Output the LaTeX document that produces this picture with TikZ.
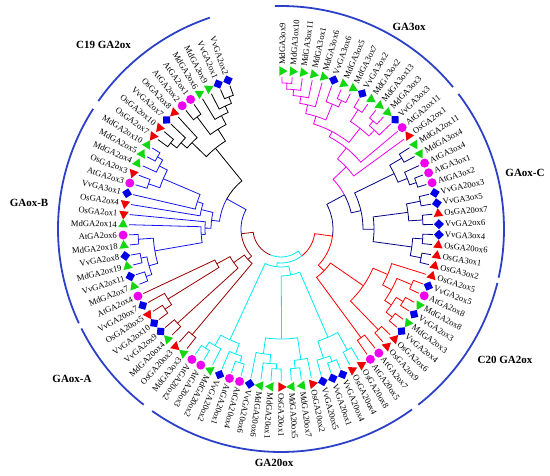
\documentclass[tikz,border=0pt]{standalone}
\usepackage{fontspec}
\setmainfont{Liberation Serif}
\usetikzlibrary{shapes.geometric}
\definecolor{cMag}{RGB}{240,0,240}
\definecolor{cNavy}{RGB}{0,0,128}
\definecolor{cRed}{RGB}{255,0,0}
\definecolor{cCyan}{RGB}{0,235,240}
\definecolor{cDRed}{RGB}{150,0,0}
\definecolor{cBlue}{RGB}{20,20,240}
\definecolor{cBlk}{RGB}{0,0,0}
\definecolor{mGreen}{RGB}{20,215,20}
\definecolor{mBlue}{RGB}{0,0,230}
\definecolor{mRed}{RGB}{240,0,0}
\definecolor{mMag}{RGB}{240,0,240}
\definecolor{arcBlue}{RGB}{45,65,200}
\tikzset{
  br/.style={line width=0.8pt},
  mkG/.style={regular polygon, regular polygon sides=3, fill=mGreen, inner sep=0pt, minimum size=11pt, rotate=#1-180},
  mkR/.style={regular polygon, regular polygon sides=3, fill=mRed, inner sep=0pt, minimum size=11pt, rotate=#1},
  mkB/.style={regular polygon, regular polygon sides=4, fill=mBlue, inner sep=0pt, minimum size=10pt, rotate=#1+45},
  mkM/.style={circle, fill=mMag, inner sep=0pt, minimum size=9pt},
  lab/.style={font=\fontsize{8.6}{9}\selectfont, inner sep=0pt},
  grp/.style={font=\fontsize{11}{12}\selectfont\bfseries, inner sep=0pt},
  outarc/.style={draw=arcBlue, line width=1.8pt}
}
% clade: colour1 colour2 R i1 r1 i2 r2
\newcommand\CL[7]{%
  \draw[br,#1] ({89.6-3.82*(#4)}:#5pt) -- ({89.6-3.82*(#4)}:#3pt)
    arc[start angle={89.6-3.82*(#4)}, end angle={89.6-3.82*((#4+#6)/2)}, radius=#3pt];
  \draw[br,#2] ({89.6-3.82*(#6)}:#7pt) -- ({89.6-3.82*(#6)}:#3pt)
    arc[start angle={89.6-3.82*(#6)}, end angle={89.6-3.82*((#4+#6)/2)}, radius=#3pt];}
% leaf: index, text, type
\newcommand\LF[3]{%
  \pgfmathsetmacro\ph{89.6-3.82*#1}%
  \node[mk#3=\ph] (m#1) at (\ph:158pt) {};
  \ifnum#1<57
    \node[lab, anchor=west, rotate=\ph] (t#1) at (\ph:164pt) {#2};
  \else
    \node[lab, anchor=east, rotate=\ph+180] (t#1) at (\ph:164pt) {#2};
  \fi}
\newcommand\OA[2]{\draw[outarc] ({90-(#1)}:223pt) arc[start angle={90-(#1)}, end angle={90-(#2)}, radius=223pt];}
\begin{document}
\begin{tikzpicture}
\useasboundingbox (0,0) rectangle (550pt,475pt);
\begin{scope}[shift={(281pt,246pt)}]
% ---- GA3ox (magenta)
\CL{cMag}{cMag}{146}{0}{152}{1}{152}
\CL{cMag}{cMag}{140}{0.5}{146}{2}{152}
\CL{cMag}{cMag}{134}{1.25}{140}{3}{152}
\CL{cMag}{cMag}{127}{2.125}{134}{4}{152}
\CL{cMag}{cMag}{142}{6}{152}{7}{152}
\CL{cMag}{cMag}{135}{5}{152}{6.5}{142}
\CL{cMag}{cMag}{118}{3.0625}{127}{5.75}{135}
\CL{cMag}{cMag}{142}{8}{152}{9}{152}
\CL{cMag}{cMag}{142}{10}{152}{11}{152}
\CL{cMag}{cMag}{136}{10.5}{142}{12}{152}
\CL{cMag}{cMag}{128}{8.5}{142}{11.25}{136}
\CL{cMag}{cMag}{110}{4.40625}{118}{9.875}{128}
\CL{cMag}{cMag}{104}{7.140625}{110}{13}{152}
\CL{cMag}{cMag}{90}{10.0703}{104}{14}{152}
% ---- GAox-C (navy)
\CL{cNavy}{cNavy}{140}{15}{152}{16}{152}
\CL{cNavy}{cNavy}{143}{18}{152}{19}{152}
\CL{cNavy}{cNavy}{136}{17}{152}{18.5}{143}
\CL{cNavy}{cNavy}{126}{15.5}{140}{17.75}{136}
\CL{cNavy}{cNavy}{142}{20}{152}{21}{152}
\CL{cNavy}{cNavy}{142}{22}{152}{23}{152}
\CL{cNavy}{cNavy}{128}{20.5}{142}{22.5}{142}
\CL{cNavy}{cNavy}{142}{24}{152}{25}{152}
\CL{cNavy}{cNavy}{143}{26}{152}{27}{152}
\CL{cNavy}{cNavy}{132}{24.5}{142}{26.5}{143}
\CL{cNavy}{cNavy}{93}{21.5}{128}{25.5}{132}
\CL{cNavy}{cNavy}{82}{16.625}{126}{23.5}{93}
% ---- C20 GA2ox (red)
\CL{cRed}{cRed}{142}{29}{152}{30}{152}
\CL{cRed}{cRed}{142}{31}{152}{32}{152}
\CL{cRed}{cRed}{142}{33}{152}{34}{152}
\CL{cRed}{cRed}{134}{31.5}{142}{33.5}{142}
\CL{cRed}{cRed}{126}{29.5}{142}{32.5}{134}
\CL{cRed}{cRed}{116}{28}{152}{31}{126}
\CL{cRed}{cRed}{140}{35}{152}{36}{152}
\CL{cRed}{cRed}{100}{29.5}{116}{35.5}{140}
\CL{cRed}{cRed}{135}{37}{152}{38}{152}
\CL{cRed}{cRed}{60}{32.5}{100}{37.5}{135}
% ---- GA20ox (cyan)
\CL{cCyan}{cCyan}{138}{39}{152}{40}{152}
\CL{cCyan}{cCyan}{142}{41}{152}{42}{152}
\CL{cCyan}{cCyan}{136}{41.5}{142}{43}{152}
\CL{cCyan}{cCyan}{118}{39.5}{138}{42.25}{136}
\CL{cCyan}{cCyan}{140}{45}{152}{46}{152}
\CL{cCyan}{cCyan}{132}{44}{152}{45.5}{140}
\CL{cCyan}{cCyan}{140}{47}{152}{48}{152}
\CL{cCyan}{cCyan}{135}{47.5}{140}{49}{152}
\CL{cCyan}{cCyan}{126}{48.25}{135}{50}{152}
\CL{cCyan}{cCyan}{110}{44.75}{132}{49.125}{126}
\CL{cCyan}{cCyan}{140}{51}{152}{52}{152}
\CL{cCyan}{cCyan}{133}{51.5}{140}{53}{152}
\CL{cCyan}{cCyan}{141}{55}{152}{56}{152}
\CL{cCyan}{cCyan}{134}{54}{152}{55.5}{141}
\CL{cCyan}{cCyan}{122}{52.25}{133}{54.75}{134}
\CL{cCyan}{cCyan}{47}{40.875}{118}{46.9375}{110}
\CL{cCyan}{cCyan}{38}{43.906}{47}{53.5}{122}
% ---- GAox-A (dark red)
\CL{cDRed}{cDRed}{138}{57}{152}{58}{152}
\CL{cDRed}{cDRed}{140}{59}{152}{60}{152}
\CL{cDRed}{cDRed}{141}{61}{152}{62}{152}
\CL{cDRed}{cDRed}{133}{61.5}{141}{63}{152}
\CL{cDRed}{cDRed}{73}{62.25}{133}{64}{152}
\CL{cDRed}{cDRed}{58}{59.5}{140}{63.125}{73}
\CL{cDRed}{cDRed}{45}{57.5}{138}{61.3125}{58}
% ---- GAox-B (blue)
\CL{cBlue}{cBlue}{143}{65}{152}{66}{152}
\CL{cBlue}{cBlue}{143}{67}{152}{68}{152}
\CL{cBlue}{cBlue}{137}{65.5}{143}{67.5}{143}
\CL{cBlue}{cBlue}{143}{69}{152}{70}{152}
\CL{cBlue}{cBlue}{128}{66.5}{137}{69.5}{143}
\CL{cBlue}{cBlue}{80}{68}{128}{71}{152}
\CL{cBlue}{cBlue}{76}{69.5}{80}{72}{152}
\CL{cBlue}{cBlue}{140}{75}{152}{76}{152}
\CL{cBlue}{cBlue}{143}{78}{152}{79}{152}
\CL{cBlue}{cBlue}{137}{77}{152}{78.5}{143}
\CL{cBlue}{cBlue}{128}{75.5}{140}{77.75}{137}
\CL{cBlue}{cBlue}{88}{74}{152}{76.625}{128}
\CL{cBlue}{cBlue}{82}{73}{152}{75.3125}{88}
\CL{cBlue}{cBlue}{70}{70.75}{76}{74.156}{82}
% ---- C19 GA2ox (black)
\CL{cBlk}{cBlk}{142}{88}{152}{89}{152}
\CL{cBlk}{cBlk}{135}{87}{152}{88.5}{142}
\CL{cBlk}{cBlk}{128}{86}{152}{87.75}{135}
\CL{cBlk}{cBlk}{140}{84}{152}{85}{152}
\CL{cBlk}{cBlk}{118}{84.5}{140}{86.875}{128}
\CL{cBlk}{cBlk}{140}{80}{152}{81}{152}
\CL{cBlk}{cBlk}{132}{80.5}{140}{82}{152}
\CL{cBlk}{cBlk}{124}{81.25}{132}{83}{152}
\CL{cBlk}{cBlk}{104}{82.125}{124}{85.6875}{118}
% ---- deep nodes
\CL{cBlue}{cBlk}{62}{72.453}{70}{83.906}{104}
\CL{cMag}{cNavy}{72}{12.035}{90}{20.0625}{82}
\CL{cNavy}{cRed}{52}{16.05}{72}{35}{60}
\CL{cRed}{cCyan}{34}{25.52}{52}{48.703}{38}
\CL{cDRed}{cBlue}{40}{59.406}{45}{78.18}{62}
\CL{cCyan}{cDRed}{28}{37.11}{34}{68.79}{40}
% ---- leaves
\LF{0}{MdGA3ox9}{G}
\LF{1}{MdGA3ox10}{G}
\LF{2}{MdGA3ox11}{G}
\LF{3}{MdGA3ox1}{G}
\LF{4}{MdGA3ox6}{G}
\LF{5}{VvGA3ox6}{B}
\LF{6}{MdGA3ox5}{G}
\LF{7}{MdGA3ox7}{G}
\LF{8}{VvGA3ox2}{B}
\LF{9}{MdGA3ox2}{G}
\LF{10}{MdGA3ox13}{G}
\LF{11}{MdGA3ox3}{G}
\LF{12}{VvGA3ox3}{B}
\LF{13}{AtGA2ox11}{M}
\LF{14}{OsGA2ox1}{R}
\LF{15}{MdGA2ox11}{G}
\LF{16}{MdGA3ox4}{G}
\LF{17}{AtGA3ox4}{M}
\LF{18}{AtGA3ox1}{M}
\LF{19}{AtGA3ox2}{M}
\LF{20}{VvGA20ox3}{B}
\LF{21}{VvGA3ox5}{B}
\LF{22}{OsGA20ox7}{R}
\LF{23}{VvGA2ox6}{B}
\LF{24}{VvGA3ox4}{B}
\LF{25}{OsGA20ox6}{R}
\LF{26}{OsGA3ox1}{R}
\LF{27}{OsGA3ox2}{R}
\LF{28}{OsGA2ox5}{R}
\LF{29}{VvGA2ox5}{B}
\LF{30}{AtGA2ox8}{M}
\LF{31}{MdGA2ox8}{G}
\LF{32}{VvGA2ox3}{B}
\LF{33}{MdGA2ox3}{G}
\LF{34}{VvGA2ox4}{B}
\LF{35}{OsGA2ox6}{R}
\LF{36}{OsGA2ox9}{R}
\LF{37}{AtGA2ox7}{M}
\LF{38}{AtGA20ox5}{M}
\LF{39}{OsGA20ox8}{R}
\LF{40}{OsGA20ox4}{R}
\LF{41}{VvGA20ox4}{B}
\LF{42}{VvGA20ox1}{B}
\LF{43}{VvGA20ox5}{B}
\LF{44}{OsGA20ox2}{R}
\LF{45}{MdGA20ox7}{G}
\LF{46}{MdGA20ox5}{G}
\LF{47}{OsGA20ox1}{R}
\LF{48}{MdGA20ox1}{G}
\LF{49}{MdGA20ox6}{G}
\LF{50}{VvGA20ox6}{B}
\LF{51}{AtGA20ox4}{M}
\LF{52}{AtGA20ox1}{M}
\LF{53}{VvGA20ox2}{B}
\LF{54}{MdGA20ox2}{G}
\LF{55}{AtGA20ox3}{M}
\LF{56}{AtGA20ox2}{M}
\LF{57}{MdGA3ox3}{G}
\LF{58}{OsGA20ox3}{R}
\LF{59}{MdGA20ox4}{G}
\LF{60}{VvGA2ox9}{B}
\LF{61}{VvGA2ox10}{B}
\LF{62}{OsGA20ox5}{R}
\LF{63}{VvGA20ox7}{B}
\LF{64}{AtGA2ox4}{M}
\LF{65}{MdGA2ox7}{G}
\LF{66}{VvGA2ox11}{B}
\LF{67}{MdGA2ox19}{G}
\LF{68}{VvGA2ox8}{B}
\LF{69}{MdGA2ox18}{G}
\LF{70}{AtGA2ox6}{M}
\LF{71}{MdGA2ox14}{G}
\LF{72}{OsGA2ox1}{R}
\LF{73}{OsGA2ox4}{R}
\LF{74}{VvGA3ox1}{B}
\LF{75}{AtGA2ox3}{M}
\LF{76}{OsGA2ox3}{R}
\LF{77}{MdGA2ox4}{G}
\LF{78}{MdGA2ox5}{G}
\LF{79}{MdGA2ox10}{G}
\LF{80}{OsGA2ox7}{R}
\LF{81}{OsGA2ox10}{R}
\LF{82}{VvGA2ox7}{B}
\LF{83}{OsGA2ox8}{R}
\LF{84}{AtGA2ox2}{M}
\LF{85}{AtGA2ox1}{M}
\LF{86}{MdGA2ox6}{G}
\LF{87}{MdGA2ox9}{G}
\LF{88}{VvGA2ox1}{B}
\LF{89}{VvGA2ox2}{B}
% ---- outer group arcs
\OA{-1.6}{50.5}
\OA{52.7}{102.6}
\OA{104}{142}
\OA{144}{215.3}
\OA{218}{243.5}
\OA{245}{302.6}
\OA{305}{341.4}
\end{scope}
\node[grp] (g1) at (409pt,448pt) {GA3ox};
\node[grp] (g2) at (525pt,302pt) {GAox-C};
\node[grp] (g3) at (505pt,115pt) {C20 GA2ox};
\node[grp] (g4) at (274pt,12pt) {GA20ox};
\node[grp] (g5) at (72pt,96pt) {GAox-A};
\node[grp] (g6) at (29pt,272pt) {GAox-B};
\node[grp] (g7) at (103.5pt,430pt) {C19 GA2ox};
\end{tikzpicture}
\end{document}
